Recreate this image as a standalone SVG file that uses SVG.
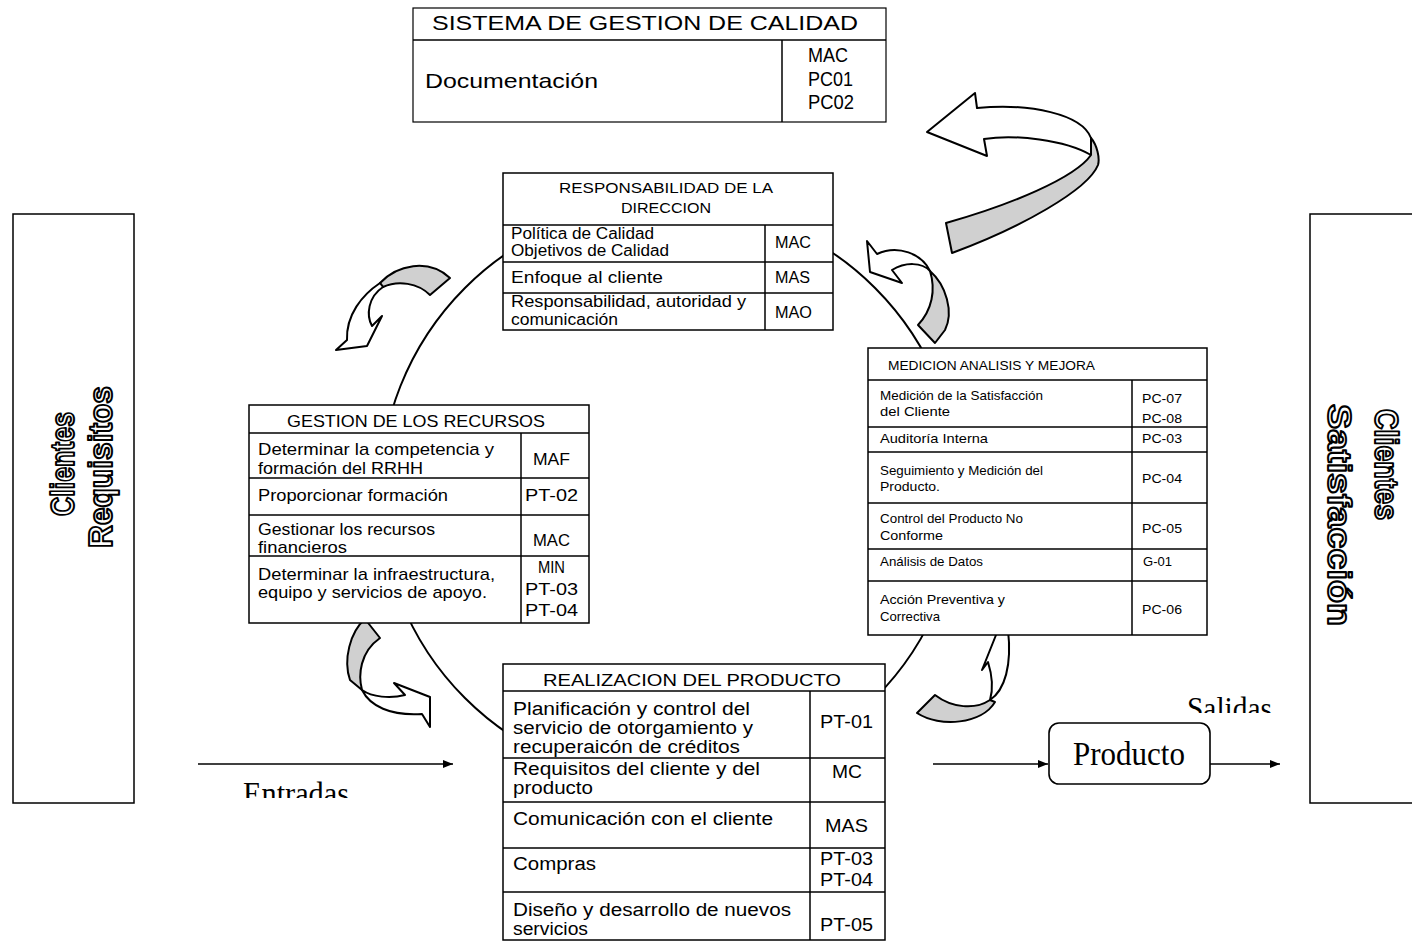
<svg xmlns="http://www.w3.org/2000/svg" width="1412" height="942" viewBox="0 0 1412 942">
<style>
.box{fill:#fff;stroke:#000;stroke-width:1.5}
.thin{fill:#fff;stroke:#000;stroke-width:1.2}
.ln{stroke:#000;stroke-width:1.5;fill:none}
.t{font-family:"Liberation Sans",Arial,sans-serif;fill:#000}
.tm{font-family:"Liberation Serif","Times New Roman",serif;fill:#000}
.ol{font-family:"Liberation Sans",Arial,sans-serif;font-weight:bold;fill:#fff;stroke:#000;stroke-width:2;font-size:33px;stroke-linejoin:round}
.wh{fill:#fff;stroke:#000;stroke-width:2;stroke-linejoin:round}
.gr{fill:#d0d0d0;stroke:#000;stroke-width:2;stroke-linejoin:round}
.con{stroke:#000;stroke-width:1.6;fill:none}
</style>
<defs>
<marker id="ah" markerWidth="10" markerHeight="8" refX="10" refY="4" orient="auto" markerUnits="userSpaceOnUse">
<path d="M0,0 L10,4 L0,8 Z" fill="#000"/>
</marker>
<clipPath id="clipE"><rect x="220" y="770" width="160" height="28"/></clipPath>
<clipPath id="clipS"><rect x="1170" y="680" width="120" height="33"/></clipPath>
</defs>

<g id="ciclo">
<circle cx="670" cy="493" r="290" fill="none" stroke="#000" stroke-width="2"/>
</g>

<g id="flechas-curvas">
<path class="wh" d="M927,132 L975,93 L977,108 C1030,103 1082,114 1091,138 L1091,155 C1065,140 1015,134 984,139 L987,156 Z"/>
<path class="gr" d="M1091,138 C1097,145 1100,158 1098,165 C1088,190 1020,228 952,253 L946,223 C1010,205 1075,178 1091,155 Z"/>
<path class="wh" d="M867,241 L870,272 L902,283 L892,270 C905,262 922,262 930,271 C922,254 898,244 877,254 Z"/>
<path class="gr" d="M930,271 C946,285 954,312 945,330 L935,343 L918,325 C932,310 936,290 930,271 Z"/>
<path class="gr" d="M380,283 C397,265 428,258 450,278 L430,295 C418,283 398,280 383,287 Z"/>
<path class="wh" d="M380,283 C362,295 346,315 347,340 L336,350 L367,346 L382,316 L372,326 C366,315 368,297 383,287 Z"/>
<path class="gr" d="M365,619 C350,632 343,660 350,680 L362,690 C358,675 360,652 380,638 Z"/>
<path class="wh" d="M362,690 C370,706 390,716 422,714 L430,727 L430,697 L394,683 L405,695 C390,699 372,697 362,690 Z"/>
<path class="wh" d="M990,700 C1005,690 1012,665 1008,630 L1000,625 L982,670 L988,662 C993,678 993,690 990,700 Z"/>
<path class="gr" d="M990,700 C975,710 952,708 935,695 L917,713 C940,728 982,724 995,702 Z"/>
</g>

<g id="conectores">
<line class="con" x1="198" y1="764" x2="453" y2="764" marker-end="url(#ah)"/>
<line class="con" x1="933" y1="764" x2="1048" y2="764" marker-end="url(#ah)"/>
<line class="con" x1="1210" y1="764" x2="1280" y2="764" marker-end="url(#ah)"/>
<text class="tm" x="243" y="804" font-size="32" textLength="106" lengthAdjust="spacingAndGlyphs" clip-path="url(#clipE)">Entradas</text>
<text class="tm" x="1187" y="719" font-size="32" textLength="85" lengthAdjust="spacingAndGlyphs" clip-path="url(#clipS)">Salidas</text>
</g>

<g id="sgc">
<rect class="thin" x="413" y="8" width="473" height="114"/>
<line class="ln" x1="413" y1="40" x2="886" y2="40" stroke-width="1.2"/>
<line class="ln" x1="782" y1="40" x2="782" y2="122" stroke-width="1.2"/>
<text class="t" x="645" y="30" font-size="21" text-anchor="middle" textLength="426" lengthAdjust="spacingAndGlyphs">SISTEMA DE GESTION DE CALIDAD</text>
<text class="t" x="425" y="88" font-size="21" textLength="173" lengthAdjust="spacingAndGlyphs">Documentación</text>
<text class="t" x="808" y="62" font-size="21" textLength="40" lengthAdjust="spacingAndGlyphs">MAC</text>
<text class="t" x="808" y="86" font-size="21" textLength="45" lengthAdjust="spacingAndGlyphs">PC01</text>
<text class="t" x="808" y="109" font-size="21" textLength="46" lengthAdjust="spacingAndGlyphs">PC02</text>
</g>

<g id="clientes-requisitos">
<rect class="box" x="13" y="214" width="121" height="589"/>
<text class="ol" transform="translate(74,464) rotate(-90)" text-anchor="middle" textLength="104" lengthAdjust="spacingAndGlyphs">Clientes</text>
<text class="ol" transform="translate(112,467) rotate(-90)" text-anchor="middle" textLength="162" lengthAdjust="spacingAndGlyphs">Requisitos</text>
</g>

<g id="clientes-satisfaccion">
<rect class="box" x="1310" y="214" width="120" height="589"/>
<text class="ol" transform="translate(1375,409) rotate(90)" textLength="111" lengthAdjust="spacingAndGlyphs">Clientes</text>
<text class="ol" transform="translate(1328,404) rotate(90)" textLength="222" lengthAdjust="spacingAndGlyphs">Satisfacción</text>
</g>

<g id="responsabilidad">
<rect class="box" x="503" y="173" width="330" height="157"/>
<line class="ln" x1="503" y1="225" x2="833" y2="225"/>
<line class="ln" x1="503" y1="262" x2="833" y2="262"/>
<line class="ln" x1="503" y1="293" x2="833" y2="293"/>
<line class="ln" x1="765" y1="225" x2="765" y2="330"/>
<text class="t" x="666" y="193" font-size="14" text-anchor="middle" textLength="214" lengthAdjust="spacingAndGlyphs">RESPONSABILIDAD DE LA</text>
<text class="t" x="666" y="213" font-size="14" text-anchor="middle" textLength="90" lengthAdjust="spacingAndGlyphs">DIRECCION</text>
<text class="t" x="511" y="239" font-size="16" textLength="143" lengthAdjust="spacingAndGlyphs">Política de Calidad</text>
<text class="t" x="511" y="256" font-size="16" textLength="158" lengthAdjust="spacingAndGlyphs">Objetivos de Calidad</text>
<text class="t" x="775" y="248" font-size="16" textLength="36" lengthAdjust="spacingAndGlyphs">MAC</text>
<text class="t" x="511" y="283" font-size="16" textLength="152" lengthAdjust="spacingAndGlyphs">Enfoque al cliente</text>
<text class="t" x="775" y="283" font-size="16" textLength="35" lengthAdjust="spacingAndGlyphs">MAS</text>
<text class="t" x="511" y="307" font-size="16" textLength="235" lengthAdjust="spacingAndGlyphs">Responsabilidad, autoridad y</text>
<text class="t" x="511" y="325" font-size="16" textLength="107" lengthAdjust="spacingAndGlyphs">comunicación</text>
<text class="t" x="775" y="318" font-size="16" textLength="37" lengthAdjust="spacingAndGlyphs">MAO</text>
</g>

<g id="gestion">
<rect class="box" x="249" y="405" width="340" height="218"/>
<line class="ln" x1="249" y1="433" x2="589" y2="433"/>
<line class="ln" x1="249" y1="478" x2="589" y2="478"/>
<line class="ln" x1="249" y1="515" x2="589" y2="515"/>
<line class="ln" x1="249" y1="556" x2="589" y2="556"/>
<line class="ln" x1="521" y1="433" x2="521" y2="623"/>
<text class="t" x="416" y="427" font-size="17" text-anchor="middle" textLength="258" lengthAdjust="spacingAndGlyphs">GESTION DE LOS RECURSOS</text>
<text class="t" x="258" y="455" font-size="17" textLength="236" lengthAdjust="spacingAndGlyphs">Determinar la competencia y</text>
<text class="t" x="258" y="474" font-size="17" textLength="165" lengthAdjust="spacingAndGlyphs">formación del RRHH</text>
<text class="t" x="533" y="465" font-size="17" textLength="37" lengthAdjust="spacingAndGlyphs">MAF</text>
<text class="t" x="258" y="501" font-size="17" textLength="190" lengthAdjust="spacingAndGlyphs">Proporcionar formación</text>
<text class="t" x="525" y="501" font-size="17" textLength="53" lengthAdjust="spacingAndGlyphs">PT-02</text>
<text class="t" x="258" y="535" font-size="17" textLength="177" lengthAdjust="spacingAndGlyphs">Gestionar los recursos</text>
<text class="t" x="258" y="553" font-size="17" textLength="89" lengthAdjust="spacingAndGlyphs">financieros</text>
<text class="t" x="533" y="546" font-size="17" textLength="37" lengthAdjust="spacingAndGlyphs">MAC</text>
<text class="t" x="258" y="580" font-size="17" textLength="237" lengthAdjust="spacingAndGlyphs">Determinar la infraestructura,</text>
<text class="t" x="258" y="598" font-size="17" textLength="229" lengthAdjust="spacingAndGlyphs">equipo y servicios de apoyo.</text>
<text class="t" x="538" y="573" font-size="17" textLength="27" lengthAdjust="spacingAndGlyphs">MIN</text>
<text class="t" x="525" y="595" font-size="17" textLength="53" lengthAdjust="spacingAndGlyphs">PT-03</text>
<text class="t" x="525" y="616" font-size="17" textLength="53" lengthAdjust="spacingAndGlyphs">PT-04</text>
</g>

<g id="medicion">
<rect class="box" x="868" y="348" width="339" height="287"/>
<line class="ln" x1="868" y1="380" x2="1207" y2="380"/>
<line class="ln" x1="868" y1="427" x2="1207" y2="427"/>
<line class="ln" x1="868" y1="452" x2="1207" y2="452"/>
<line class="ln" x1="868" y1="503" x2="1207" y2="503"/>
<line class="ln" x1="868" y1="549" x2="1207" y2="549"/>
<line class="ln" x1="868" y1="581" x2="1207" y2="581"/>
<line class="ln" x1="1132" y1="380" x2="1132" y2="635"/>
<text class="t" x="888" y="370" font-size="13" textLength="207" lengthAdjust="spacingAndGlyphs">MEDICION ANALISIS Y MEJORA</text>
<text class="t" x="880" y="400" font-size="13" textLength="163" lengthAdjust="spacingAndGlyphs">Medición de la Satisfacción</text>
<text class="t" x="880" y="416" font-size="13" textLength="70" lengthAdjust="spacingAndGlyphs">del Cliente</text>
<text class="t" x="1142" y="403" font-size="13" textLength="40" lengthAdjust="spacingAndGlyphs">PC-07</text>
<text class="t" x="1142" y="423" font-size="13" textLength="40" lengthAdjust="spacingAndGlyphs">PC-08</text>
<text class="t" x="880" y="443" font-size="13" textLength="108" lengthAdjust="spacingAndGlyphs">Auditoría Interna</text>
<text class="t" x="1142" y="443" font-size="13" textLength="40" lengthAdjust="spacingAndGlyphs">PC-03</text>
<text class="t" x="880" y="475" font-size="13" textLength="163" lengthAdjust="spacingAndGlyphs">Seguimiento y Medición del</text>
<text class="t" x="880" y="491" font-size="13" textLength="60" lengthAdjust="spacingAndGlyphs">Producto.</text>
<text class="t" x="1142" y="483" font-size="13" textLength="40" lengthAdjust="spacingAndGlyphs">PC-04</text>
<text class="t" x="880" y="523" font-size="13" textLength="143" lengthAdjust="spacingAndGlyphs">Control del Producto No</text>
<text class="t" x="880" y="540" font-size="13" textLength="63" lengthAdjust="spacingAndGlyphs">Conforme</text>
<text class="t" x="1142" y="533" font-size="13" textLength="40" lengthAdjust="spacingAndGlyphs">PC-05</text>
<text class="t" x="880" y="566" font-size="13" textLength="103" lengthAdjust="spacingAndGlyphs">Análisis de Datos</text>
<text class="t" x="1143" y="566" font-size="13" textLength="29" lengthAdjust="spacingAndGlyphs">G-01</text>
<text class="t" x="880" y="604" font-size="13" textLength="125" lengthAdjust="spacingAndGlyphs">Acción  Preventiva  y</text>
<text class="t" x="880" y="621" font-size="13" textLength="60" lengthAdjust="spacingAndGlyphs">Correctiva</text>
<text class="t" x="1142" y="614" font-size="13" textLength="40" lengthAdjust="spacingAndGlyphs">PC-06</text>
</g>

<g id="realizacion">
<rect class="box" x="503" y="664" width="382" height="276"/>
<line class="ln" x1="503" y1="691" x2="885" y2="691"/>
<line class="ln" x1="503" y1="758" x2="885" y2="758"/>
<line class="ln" x1="503" y1="802" x2="885" y2="802"/>
<line class="ln" x1="503" y1="848" x2="885" y2="848"/>
<line class="ln" x1="503" y1="892" x2="885" y2="892"/>
<line class="ln" x1="810" y1="691" x2="810" y2="940"/>
<text class="t" x="692" y="686" font-size="17" text-anchor="middle" textLength="298" lengthAdjust="spacingAndGlyphs">REALIZACION DEL PRODUCTO</text>
<text class="t" x="513" y="715" font-size="18" textLength="237" lengthAdjust="spacingAndGlyphs">Planificación y control del</text>
<text class="t" x="513" y="734" font-size="18" textLength="240" lengthAdjust="spacingAndGlyphs">servicio de otorgamiento y</text>
<text class="t" x="513" y="753" font-size="18" textLength="227" lengthAdjust="spacingAndGlyphs">recuperaicón de créditos</text>
<text class="t" x="820" y="728" font-size="18" textLength="53" lengthAdjust="spacingAndGlyphs">PT-01</text>
<text class="t" x="513" y="775" font-size="18" textLength="247" lengthAdjust="spacingAndGlyphs">Requisitos del cliente y del</text>
<text class="t" x="513" y="794" font-size="18" textLength="80" lengthAdjust="spacingAndGlyphs">producto</text>
<text class="t" x="832" y="778" font-size="18" textLength="30" lengthAdjust="spacingAndGlyphs">MC</text>
<text class="t" x="513" y="825" font-size="18" textLength="260" lengthAdjust="spacingAndGlyphs">Comunicación con el cliente</text>
<text class="t" x="825" y="832" font-size="18" textLength="43" lengthAdjust="spacingAndGlyphs">MAS</text>
<text class="t" x="513" y="870" font-size="18" textLength="83" lengthAdjust="spacingAndGlyphs">Compras</text>
<text class="t" x="820" y="865" font-size="18" textLength="53" lengthAdjust="spacingAndGlyphs">PT-03</text>
<text class="t" x="820" y="886" font-size="18" textLength="53" lengthAdjust="spacingAndGlyphs">PT-04</text>
<text class="t" x="513" y="916" font-size="18" textLength="278" lengthAdjust="spacingAndGlyphs">Diseño y desarrollo de nuevos</text>
<text class="t" x="513" y="935" font-size="18" textLength="75" lengthAdjust="spacingAndGlyphs">servicios</text>
<text class="t" x="820" y="931" font-size="18" textLength="53" lengthAdjust="spacingAndGlyphs">PT-05</text>
</g>

<g id="producto">
<rect x="1049" y="723" width="161" height="61" rx="10" ry="10" fill="#fff" stroke="#000" stroke-width="1.6"/>
<text class="tm" x="1129" y="765" font-size="34" text-anchor="middle" textLength="112" lengthAdjust="spacingAndGlyphs">Producto</text>
</g>
</svg>
